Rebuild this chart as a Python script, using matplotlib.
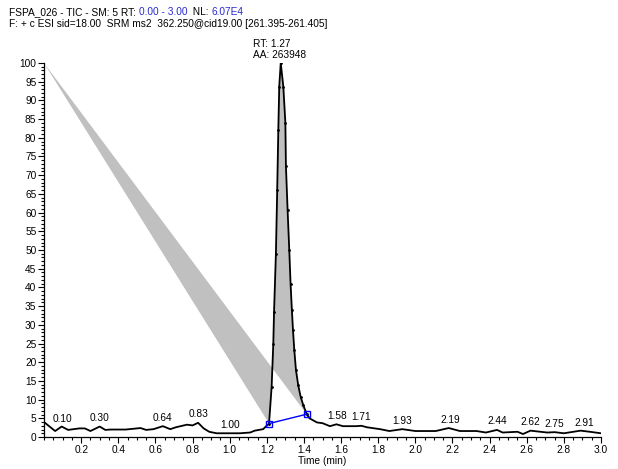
import matplotlib
matplotlib.use("Agg")
import matplotlib.pyplot as plt
import numpy as np
from matplotlib.patches import Polygon
from matplotlib.ticker import MultipleLocator, FixedLocator

plt.rcParams['font.family'] = ['Liberation Sans', 'DejaVu Sans']

# ---- data ----
base_left_t = [0.005, 0.06, 0.095, 0.13, 0.19, 0.22, 0.25, 0.30, 0.33, 0.36, 0.44, 0.52,
               0.55, 0.59, 0.64, 0.68, 0.71, 0.77, 0.80, 0.83, 0.86, 0.89, 0.93, 1.00,
               1.055, 1.11, 1.135, 1.18]
base_left_v = [3.8, 1.6, 2.8, 1.9, 2.3, 2.3, 1.6, 2.8, 1.9, 2.0, 2.0, 2.4,
               1.9, 2.1, 2.9, 2.1, 2.6, 3.3, 3.1, 3.8, 2.3, 1.4, 1.0, 1.0,
               1.0, 1.2, 1.7, 2.1]
peak_t = [1.212, 1.226, 1.235, 1.239, 1.249, 1.256, 1.262, 1.267, 1.275, 1.289, 1.300,
          1.303, 1.312, 1.321, 1.328, 1.335, 1.341, 1.348, 1.357, 1.369, 1.382, 1.396, 1.415]
peak_v = [3.6, 13.4, 25.0, 33.4, 49.0, 66.0, 82.0, 93.7, 100.0, 93.7, 84.0,
          72.5, 60.7, 50.0, 41.0, 34.0, 28.6, 23.3, 17.9, 13.9, 10.8, 8.6, 6.1]
base_right_t = [1.43, 1.47, 1.50, 1.54, 1.575, 1.61, 1.68, 1.71, 1.74, 1.81, 1.86, 1.93,
                2.00, 2.11, 2.18, 2.24, 2.33, 2.38, 2.44, 2.47, 2.55, 2.58, 2.62, 2.71,
                2.75, 2.80, 2.89, 2.94, 3.00]
base_right_v = [5.0, 3.9, 3.7, 2.9, 3.4, 2.9, 2.9, 3.0, 2.6, 2.1, 1.6, 2.1,
                1.6, 1.6, 2.4, 1.6, 1.6, 1.2, 1.9, 1.2, 1.4, 0.8, 1.7, 1.2,
                1.3, 1.0, 1.7, 1.4, 1.0]
peak_labels = [0.10, 0.30, 0.64, 0.83, 1.00, 1.58, 1.71, 1.93, 2.19, 2.44, 2.62, 2.75, 2.91]
main_rt = 1.27
main_area = 263948
apex_point = (0.0, 100.0)   # artefact vertex of the integration fill
xticks = [0.2, 0.4, 0.6, 0.8, 1.0, 1.2, 1.4, 1.6, 1.8, 2.0, 2.2, 2.4, 2.6, 2.8, 3.0]
yticks = list(range(0, 101, 5))

t = np.array(base_left_t + peak_t + base_right_t)
v = np.array(base_left_v + peak_v + base_right_v)

fig = plt.figure(figsize=(6.18, 4.69), dpi=100)
ax = fig.add_axes([0.0712, 0.0682, 0.9013, 0.7975])

# integration fill (with the artefact triangle)
poly_pts = [apex_point] + list(zip(peak_t, peak_v)) + [apex_point]
ax.add_patch(Polygon(poly_pts, closed=True, facecolor='#c0c0c0', edgecolor='none', zorder=1))

ax.plot(t, v, color='black', lw=1.3, zorder=3, solid_joinstyle='round')
ax.plot(peak_t, peak_v, ls='none', marker='o', ms=1.0, color='black', zorder=4)

# baseline
ax.plot([peak_t[0], peak_t[-1]], [peak_v[0], peak_v[-1]], color='#0000ff', lw=1.0,
        marker='s', ms=4.5, mfc='none', mec='#0000ff', mew=1.0, zorder=5)

fs = 7.3
for rt in peak_labels:
    yv = np.interp(rt, t, v)
    ax.annotate(f"{rt:.2f}", xy=(rt, yv), xytext=(0, 2.5), textcoords='offset points',
                ha='center', va='bottom', fontsize=fs)
ax.annotate(f"RT: {main_rt:.2f}\nAA: {main_area}", xy=(main_rt, max(peak_v)), xytext=(0, 2),
            textcoords='offset points', ha='center', va='bottom', multialignment='left',
            fontsize=fs, linespacing=1.1)

ax.set_xlim(0, 3.0)
ax.set_ylim(0, 100)
ax.xaxis.set_major_locator(FixedLocator(xticks))
ax.set_xticklabels([f"{x:.1f}" for x in xticks])
ax.xaxis.set_minor_locator(MultipleLocator(0.05))
ax.yaxis.set_major_locator(FixedLocator(yticks))
ax.yaxis.set_minor_locator(MultipleLocator(1))
ax.tick_params(which='major', direction='out', length=4, width=0.8, labelsize=fs, pad=1.5)
ax.tick_params(which='minor', direction='out', length=2.5, width=0.8)
for s in ['top', 'right']:
    ax.spines[s].set_visible(False)
for s in ['left', 'bottom']:
    ax.spines[s].set_linewidth(0.9)
ax.set_xlabel("Time (min)", fontsize=fs, labelpad=1)

# header
blue = '#2a2ad0'
t1 = fig.text(9 / 618, 1 - 15 / 469, "FSPA_026 - TIC - SM: 5 RT: ", fontsize=fs, va='baseline')
a2 = ax.annotate("0.00 - 3.00", xy=(1, 0), xycoords=t1, fontsize=fs, color=blue, va='bottom')
a3 = ax.annotate("  NL: ", xy=(1, 0), xycoords=a2, fontsize=fs, va='bottom')
a4 = ax.annotate("6.07E4", xy=(1, 0), xycoords=a3, fontsize=fs, color=blue, va='bottom')
fig.text(9 / 618, 1 - 27 / 469, "F: + c ESI sid=18.00  SRM ms2  362.250@cid19.00 [261.395-261.405]",
         fontsize=fs, va='baseline')

fig.savefig("out.png", dpi=100)
